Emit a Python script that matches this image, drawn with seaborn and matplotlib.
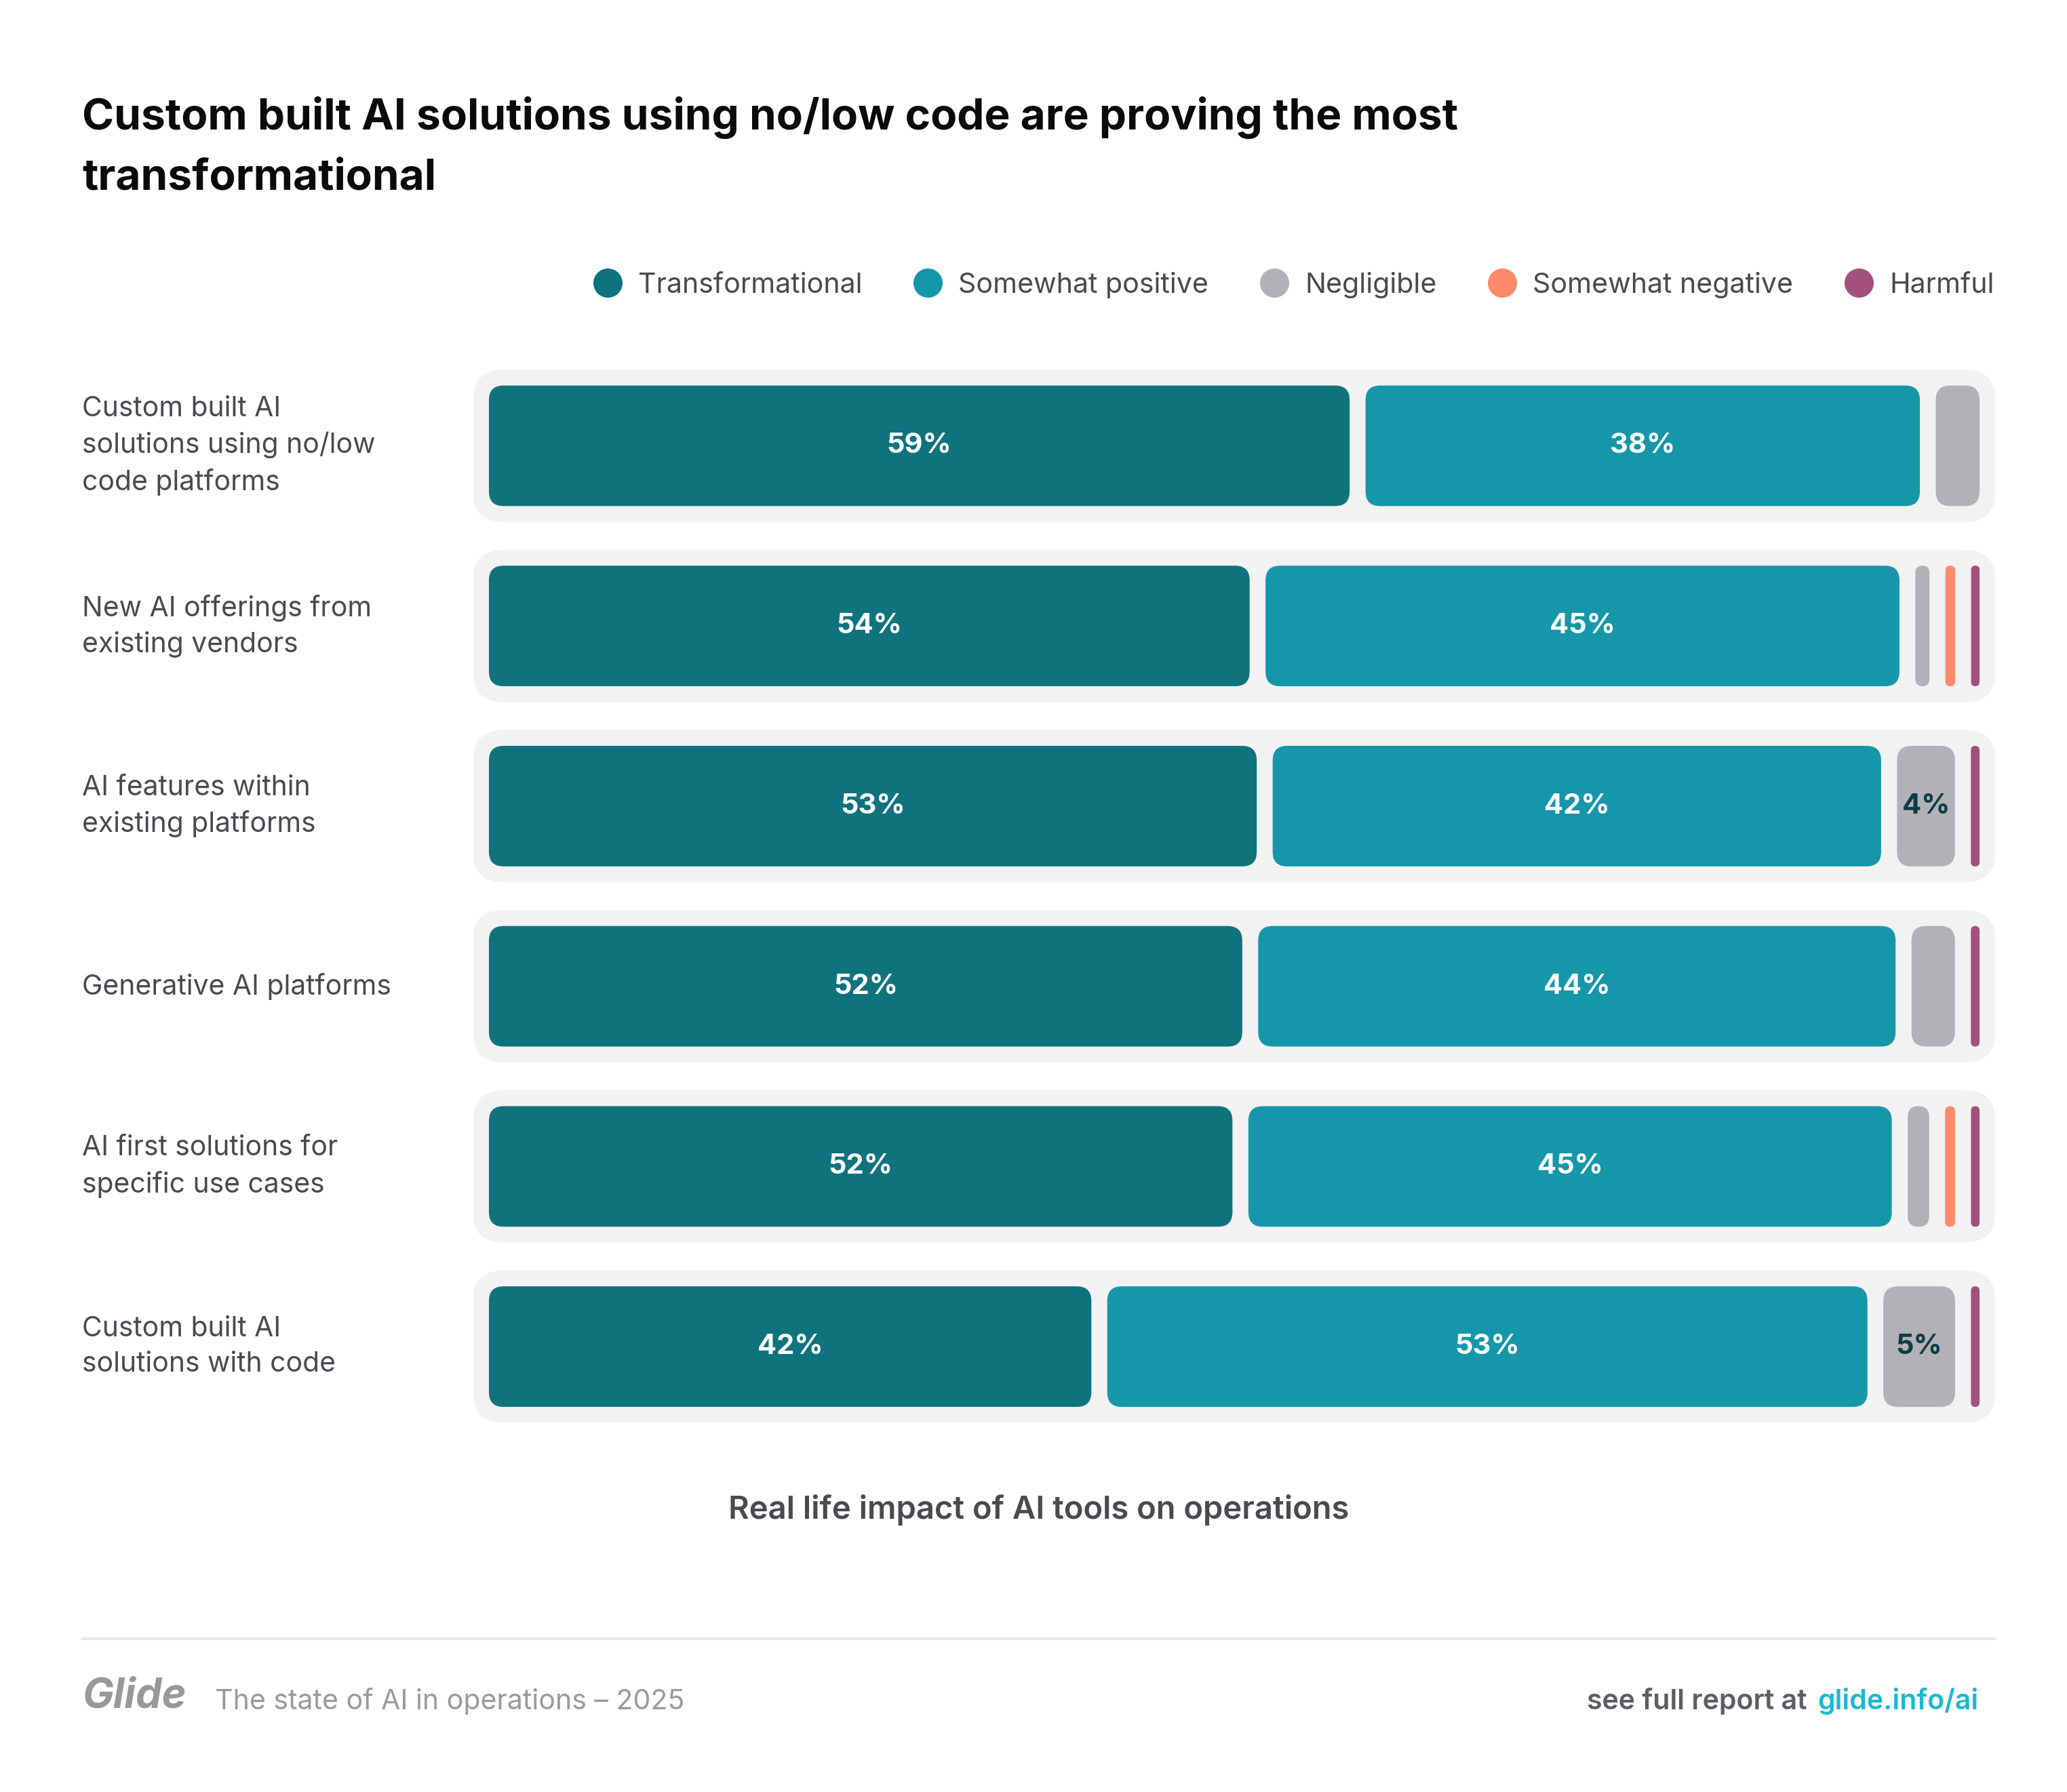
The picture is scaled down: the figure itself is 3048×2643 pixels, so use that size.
import matplotlib
matplotlib.use("Agg")
import matplotlib.pyplot as plt
import matplotlib.transforms as mtransforms
from matplotlib.patches import FancyBboxPatch
from matplotlib.lines import Line2D
import numpy as np
import pandas as pd
import seaborn as sns

# ---- data ----
categories = [
    "Custom built AI\nsolutions using no/low\ncode platforms",
    "New AI offerings from\nexisting vendors",
    "AI features within\nexisting platforms",
    "Generative AI platforms",
    "AI first solutions for\nspecific use cases",
    "Custom built AI\nsolutions with code",
]
series_names = ["Transformational", "Somewhat positive", "Negligible",
                "Somewhat negative", "Harmful"]
transformational = [59, 54, 53, 52, 52, 42]
somewhat_positive = [38, 45, 42, 44, 45, 53]
negligible = [3, 1, 4, 3, 1.5, 5]
somewhat_negative = [0, 0.7, 0, 0, 0.7, 0]
harmful = [0, 0.6, 0.6, 0.6, 0.6, 0.6]

colors = ["#0F737E", "#1597A9", "#B2B1B7", "#FF8A6B", "#A3507E"]
label_colors = ["white", "white", "#0D3C44", "#0D3C44", "white"]
text_col = "#4A4950"

# layout helpers, in reference-sized units (1560 wide)
W, H = 1560, 1352.7
SCALE = 3048 / W


def fx(v):
    return v / W


def fy(v):
    return 1 - v / H


def round_patches(ax, patches, radius_px):
    """swap rectangles for rounded boxes with the same geometry"""
    bbox = ax.get_window_extent()
    x0, x1 = ax.get_xlim()
    y0, y1 = ax.get_ylim()
    px_x = bbox.width / abs(x1 - x0)
    px_y = bbox.height / abs(y1 - y0)
    aspect = px_x / px_y
    for p in patches:
        x, y = p.get_xy()
        w, h = p.get_width(), p.get_height()
        if w < 0:
            x, w = x + w, -w
        if h < 0:
            y, h = y + h, -h
        r = min(radius_px / px_x, w / 2, (h / aspect) / 2)
        box = FancyBboxPatch((x, y), w, h,
                             boxstyle=f"round,pad=0,rounding_size={r}",
                             mutation_aspect=aspect,
                             facecolor=p.get_facecolor(), edgecolor="none",
                             zorder=p.get_zorder())
        p.remove()
        ax.add_patch(box)


sns.set_theme(style="white")
plt.rcParams["font.family"] = ["Inter", "DejaVu Sans"]

fig = plt.figure(figsize=(15.24, 13.215), dpi=200)
ax = fig.add_axes([fx(357), fy(1074), fx(1506) - fx(357), (1074 - 279) / H])

ppu = 11.25                 # reference px per x unit (100 units = bar span)
pad = 12 / ppu              # inner padding / gap between segments
xmax = 1149 / ppu
row_px = 136

# backdrop pills
back = pd.DataFrame({"category": categories, "total": [xmax] * len(categories)})
sns.barplot(data=back, x="total", y="category", orient="h", color="#F2F2F2",
            saturation=1, width=115 / row_px, errorbar=None, ax=ax)
back_patches = list(ax.patches)

ax.set_xlim(0, xmax)
half = 57.5 / row_px
ax.set_ylim(len(categories) - 1 + half, -half)

# segments, each row scaled to fill the span
values = np.array([transformational, somewhat_positive, negligible,
                   somewhat_negative, harmful], dtype=float).T
rows = np.arange(len(categories))
lefts = np.full(values.shape, np.nan)
widths = np.zeros(values.shape)
for i, vals in enumerate(values):
    present = vals > 0
    avail = 100 - pad * (present.sum() - 1)
    w = np.where(present, vals / vals[present].sum() * avail, 0)
    x = pad
    for j in range(len(vals)):
        if present[j]:
            lefts[i, j] = x
            widths[i, j] = w[j]
            x += w[j] + pad

seg_patches = []
for j, name in enumerate(series_names):
    m = widths[:, j] > 0
    bars = ax.barh(rows[m], widths[m, j], left=lefts[m, j], height=91 / row_px,
                   color=colors[j], label=name, zorder=3)
    seg_patches.extend(bars.patches)
    for r_i, v, l, w in zip(rows[m], values[m, j], lefts[m, j], widths[m, j]):
        if v >= 4:
            ax.text(l + w / 2, r_i, f"{v:.0f}%", ha="center", va="center",
                    color=label_colors[j], fontsize=15, fontweight="bold",
                    zorder=4)

round_patches(ax, back_patches, 23 * SCALE)
round_patches(ax, seg_patches, 11 * SCALE)
ax.set_axis_off()

# category labels on the left
lab_tr = mtransforms.blended_transform_factory(fig.transFigure, ax.transData)
for r_i, cat in zip(rows, categories):
    ax.text(fx(62), r_i, cat, transform=lab_tr, ha="left", va="center",
            fontsize=14.7, color=text_col, linespacing=1.45)

# title
fig.text(fx(62), fy(98),
         "Custom built AI solutions using no/low code are proving the most",
         fontsize=23, fontweight="bold", color="#0A0A0A", va="baseline")
fig.text(fx(62), fy(143), "transformational",
         fontsize=23, fontweight="bold", color="#0A0A0A", va="baseline")

# legend
handles = [Line2D([], [], marker="o", ls="", markersize=15.5,
                  markerfacecolor=c, markeredgewidth=0) for c in colors]
fig.legend(handles, series_names, ncol=5, loc="center right",
           bbox_to_anchor=(fx(1505), fy(215)), frameon=False, fontsize=14.8,
           handlelength=1.0, handletextpad=0.6, columnspacing=1.85,
           borderpad=0, borderaxespad=0, labelcolor=text_col)

# axis caption
fig.text(fx(784), fy(1140), "Real life impact of AI tools on operations",
         ha="center", va="center", fontsize=17, fontweight="semibold",
         color=text_col)

# footer
fig.add_artist(Line2D([fx(62), fx(1506)], [fy(1237), fy(1237)],
                      transform=fig.transFigure, color="#E6E6E6", lw=1.4))
fig.text(fx(62), fy(1281), "Glide", fontsize=22, fontweight="bold",
         fontstyle="italic", color="#98989B", va="center")
fig.text(fx(162), fy(1284), "The state of AI in operations \u2013 2025",
         fontsize=14.8, color="#9A9A9E", va="center")
fig.text(fx(1493), fy(1284), "glide.info/ai", fontsize=14.8,
         fontweight="semibold", color="#1AB9CF", ha="right", va="center")
fig.text(fx(1364), fy(1284), "see full report at", fontsize=14.8,
         fontweight="semibold", color="#5E5D65", ha="right", va="center")

fig.savefig("out.png", dpi=200)
